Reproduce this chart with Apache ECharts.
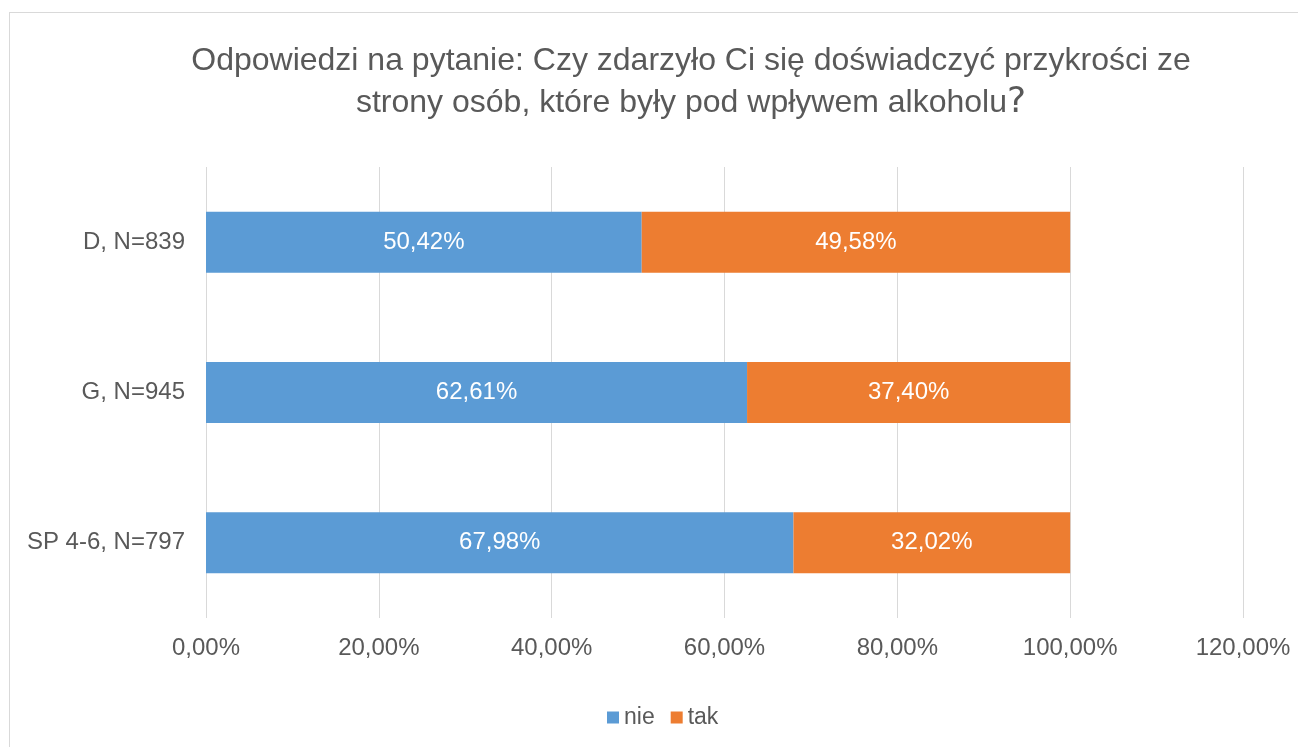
<!DOCTYPE html>
<html>
<head>
<meta charset="utf-8">
<script src="https://cdn.jsdelivr.net/npm/echarts@6/dist/echarts.min.js"></script>
<style>
	html, body { margin: 0; padding: 0; background: #fff; }
	#frame { position: absolute; left: 9px; top: 12px; width: 1300px; height: 760px; border: 1px solid #d9d9d9; box-sizing: border-box; }
	#chart { position: absolute; left: 0; top: 0; width: 1298px; height: 747px; }
</style>
</head>
<body>
<div id="frame"></div>
<div id="chart"></div>
<script>
	const categories = ['D, N=839', 'G, N=945', 'SP 4-6, N=797']
	const nieValues = [50.42, 62.61, 67.98]
	const takValues = [49.58, 37.40, 32.02]
	const xTicks = [0, 20, 40, 60, 80, 100, 120]

	const fmt = (v) => v.toFixed(2).replace('.', ',') + '%'
	const font = 'Liberation Sans, Arial'

	let myChart = echarts.init(document.getElementById('chart'))
	myChart.setOption({
		animation: false,
		title: {
			text: 'Odpowiedzi na pytanie: Czy zdarzyło Ci się doświadczyć przykrości ze\nstrony osób, które były pod wpływem alkoholu{q|?}',
			left: 686,
			top: 35,
			textAlign: 'center',
			textStyle: {
				color: '#595959',
				fontSize: 32,
				fontWeight: 'normal',
				fontFamily: font,
				lineHeight: 42,
				rich: {
					q: { fontSize: 36, color: '#595959', fontFamily: 'DejaVu Sans', lineHeight: 42 }
				}
			}
		},
		legend: {
			top: 701,
			left: 602,
			itemWidth: 12,
			itemHeight: 12,
			itemGap: 16,
			icon: 'rect',
			textStyle: { color: '#595959', fontSize: 23, fontFamily: font },
			data: ['nie', 'tak']
		},
		grid: {
			left: 206,
			right: 55,
			top: 167,
			bottom: 129,
			containLabel: false
		},
		xAxis: {
			type: 'value',
			min: 0,
			max: 120,
			interval: 20,
			axisLine: { show: false },
			axisTick: { show: false },
			splitLine: { show: true, lineStyle: { color: '#d9d9d9', width: 1 } },
			axisLabel: {
				color: '#595959',
				fontSize: 24,
				fontFamily: font,
				margin: 18,
				formatter: (v) => xTicks.indexOf(v) >= 0 ? fmt(v) : ''
			}
		},
		yAxis: {
			type: 'category',
			inverse: true,
			data: categories,
			axisLine: { show: false },
			axisTick: { show: false },
			axisLabel: {
				color: '#595959',
				fontSize: 24,
				fontFamily: font,
				margin: 21
			}
		},
		series: [{
			name: 'nie',
			type: 'bar',
			stack: 'all',
			data: nieValues,
			barWidth: 61,
			itemStyle: { color: '#5b9bd5' },
			label: {
				show: true,
				position: 'inside',
				color: '#fff',
				fontSize: 24,
				fontFamily: font,
				formatter: (p) => fmt(p.value)
			}
		}, {
			name: 'tak',
			type: 'bar',
			stack: 'all',
			data: takValues,
			barWidth: 61,
			itemStyle: { color: '#ed7d31' },
			label: {
				show: true,
				position: 'inside',
				color: '#fff',
				fontSize: 24,
				fontFamily: font,
				formatter: (p) => fmt(p.value)
			}
		}]
	})
</script>
</body>
</html>
